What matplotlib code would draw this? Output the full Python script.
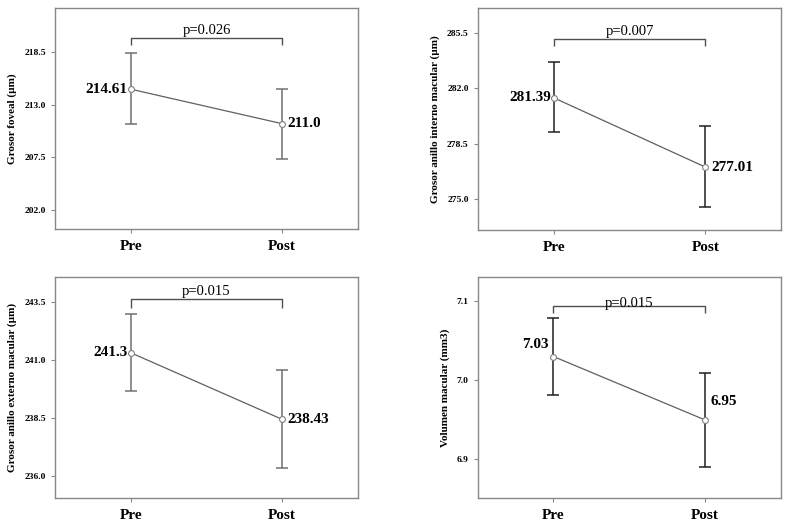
import matplotlib
matplotlib.use("Agg")
import matplotlib.pyplot as plt

plt.rcParams['font.family'] = ['Liberation Serif', 'DejaVu Serif']

groups = ['Pre', 'Post']

# panel data: mean, upper and lower error bar ends
foveal_mean = [214.61, 211.0]
foveal_hi = [218.36, 214.68]
foveal_lo = [210.98, 207.29]

interno_mean = [281.39, 277.01]
interno_hi = [283.62, 279.60]
interno_lo = [279.24, 274.48]

externo_mean = [241.3, 238.43]
externo_hi = [242.97, 240.57]
externo_lo = [239.66, 236.32]

vol_mean = [7.03, 6.95]
vol_hi = [7.079, 7.009]
vol_lo = [6.981, 6.89]

labels_foveal = ['214.61', '211.0']
labels_interno = ['281.39', '277.01']
labels_externo = ['241.3', '238.43']
labels_vol = ['7.03', '6.95']

fig = plt.figure(figsize=(7.93, 5.30), dpi=100)

panels = [
    dict(pos=[0.0694, 0.568, 0.382, 0.417], mean=foveal_mean, hi=foveal_hi, lo=foveal_lo,
         labels=labels_foveal, ylim=(200.0, 223.1), yticks=[202.0, 207.5, 213.0, 218.5],
         ylabel='Grosor foveal (µm)', p='p=0.026', br=(219.94, 219.2), ecol='#707070',
         lab_mode='side', poff=1),
    dict(pos=[0.6024, 0.566, 0.383, 0.419], mean=interno_mean, hi=interno_hi, lo=interno_lo,
         labels=labels_interno, ylim=(273.04, 287.06), yticks=[275.0, 278.5, 282.0, 285.5],
         ylabel='Grosor anillo interno macular (µm)', p='p=0.007', br=(285.1, 284.66), ecol='#202020',
         lab_mode='side', poff=1),
    dict(pos=[0.0694, 0.0598, 0.382, 0.417], mean=externo_mean, hi=externo_hi, lo=externo_lo,
         labels=labels_externo, ylim=(235.03, 244.55), yticks=[236.0, 238.5, 241.0, 243.5],
         ylabel='Grosor anillo externo macular (µm)', p='p=0.015', br=(243.6, 243.24), ecol='#707070',
         lab_mode='side', poff=1),
    dict(pos=[0.6024, 0.0598, 0.382, 0.417], mean=vol_mean, hi=vol_hi, lo=vol_lo,
         labels=labels_vol, ylim=(6.851, 7.13), yticks=[6.9, 7.0, 7.1],
         ylabel='Volumen macular (mm3)', p='p=0.015', br=(7.094, 7.085), ecol='#202020',
         lab_mode='above', poff=-3),
]

x = [0, 1]
for pn in panels:
    ax = fig.add_axes(pn['pos'])
    m = pn['mean']
    yerr = [[m[i] - pn['lo'][i] for i in range(2)], [pn['hi'][i] - m[i] for i in range(2)]]
    ax.errorbar(x, m, yerr=yerr, fmt='none', ecolor=pn['ecol'], elinewidth=1.1,
                capsize=4, capthick=1.1, zorder=2)
    ax.plot(x, m, color='#606060', linewidth=0.9, marker='o', markersize=4.2,
            markerfacecolor='white', markeredgecolor='#808080', markeredgewidth=0.8, zorder=3)

    ax.set_xlim(-0.5, 1.5)
    ax.set_ylim(*pn['ylim'])
    ax.set_yticks(pn['yticks'])
    ax.set_yticklabels(['%.1f' % t for t in pn['yticks']], fontsize=6.8, fontweight='bold')
    ax.set_xticks(x)
    ax.set_xticklabels(groups, fontsize=11, fontweight='bold')
    ax.set_ylabel(pn['ylabel'], fontsize=8, fontweight='bold', labelpad=5)
    for s in ax.spines.values():
        s.set_color('#888888')
        s.set_linewidth(1.0)
    ax.tick_params(axis='both', colors='#888888', labelcolor='black', length=3, width=0.8)
    ax.tick_params(axis='x', pad=5)

    # value labels
    if pn['lab_mode'] == 'side':
        ax.annotate(pn['labels'][0], (x[0], m[0]), xytext=(-2, 0), textcoords='offset points',
                    ha='right', va='center', fontsize=11, fontweight='bold')
        ax.annotate(pn['labels'][1], (x[1], m[1]), xytext=(4, 0), textcoords='offset points',
                    ha='left', va='center', fontsize=11, fontweight='bold')
    else:
        ax.annotate(pn['labels'][0], (x[0], m[0]), xytext=(-13, 9), textcoords='offset points',
                    ha='center', va='center', fontsize=11, fontweight='bold')
        ax.annotate(pn['labels'][1], (x[1], m[1]), xytext=(4, 13), textcoords='offset points',
                    ha='left', va='center', fontsize=11, fontweight='bold')

    # significance bracket
    top, foot = pn['br']
    ax.plot([x[0], x[0], x[1], x[1]], [foot, top, top, foot], color='#505050', linewidth=1.0,
            solid_capstyle='butt', zorder=1)
    ax.annotate(pn['p'], (0.5, top), xytext=(0, pn['poff']), textcoords='offset points',
                ha='center', va='bottom', fontsize=10.5)

fig.savefig('out.png', dpi=100)
